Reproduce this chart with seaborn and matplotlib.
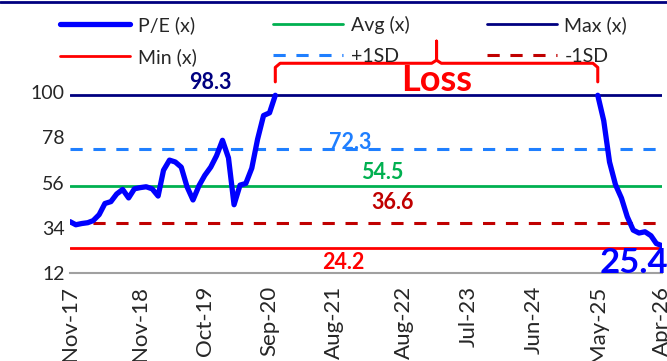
import numpy as np
import pandas as pd
import matplotlib
matplotlib.use("Agg")
import matplotlib.pyplot as plt
from matplotlib.lines import Line2D
import seaborn as sns

# P/E history (monthly), two segments with the loss period in between
PE_START_1 = "2017-11-01"
PE_VALUES_1 = [37.1, 35.6, 36.2, 36.6, 37.6, 40.5, 45.9, 46.8, 50.5, 52.7,
               48.6, 53.0, 53.6, 54.0, 53.0, 49.5, 62.0, 66.9, 66.0, 63.5,
               54.0, 47.6, 54.5, 59.5, 63.5, 69.0, 76.5, 68.0, 45.3, 54.8,
               55.6, 63.0, 77.0, 88.5, 89.8, 98.3]
PE_START_2 = "2025-05-01"
PE_VALUES_2 = [98.3, 86.0, 66.0, 55.0, 48.5, 39.5, 33.0, 31.6, 32.2, 30.3,
               26.5, 25.4]

# reference levels
MAX_PE = 98.3
PLUS_1SD = 72.3
AVG_PE = 54.5
MINUS_1SD = 36.6
MIN_PE = 24.2

X_START = "2017-11-01"
X_END = "2026-04-01"
TICK_DATES = ["2017-11-01", "2018-11-01", "2019-10-01", "2020-09-01", "2021-08-01",
              "2022-08-01", "2023-07-01", "2024-06-01", "2025-05-01", "2026-04-01"]
TICK_LABELS = ["Nov-17", "Nov-18", "Oct-19", "Sep-20", "Aug-21",
               "Aug-22", "Jul-23", "Jun-24", "May-25", "Apr-26"]
Y_TICKS = [12, 34, 56, 78, 100]

LOSS_FROM = "2020-10-01"
LOSS_TO = "2025-05-01"

C_PE = "#0000FF"
C_MAX = "#000080"
C_P1 = "#1F7FFF"
C_AVG = "#00B050"
C_M1 = "#C00000"
C_MIN = "#FF0000"

sns.set_theme(style="white")
plt.rcParams["font.family"] = ["Lato", "DejaVu Sans"]

seg1 = pd.DataFrame({"date": pd.date_range(PE_START_1, periods=len(PE_VALUES_1), freq="MS"),
                     "pe": PE_VALUES_1})
seg2 = pd.DataFrame({"date": pd.date_range(PE_START_2, periods=len(PE_VALUES_2), freq="MS"),
                     "pe": PE_VALUES_2})

fig = plt.figure(figsize=(6.67, 3.61), dpi=100)
ax = fig.add_axes([0.105, 0.2424, 0.888, 0.7036])

ax.axhline(MAX_PE, color=C_MAX, lw=2, label="Max (x)")
ax.axhline(PLUS_1SD, color=C_P1, lw=2.2, ls=(0, (4, 3.5)), label="+1SD")
ax.axhline(AVG_PE, color=C_AVG, lw=2, label="Avg (x)")
ax.axhline(MINUS_1SD, color=C_M1, lw=2.2, ls=(0, (4, 3.5)), label="-1SD")
ax.axhline(MIN_PE, color=C_MIN, lw=2, label="Min (x)")

sns.lineplot(data=seg1, x="date", y="pe", ax=ax, color=C_PE, lw=3.8, label="P/E (x)")
sns.lineplot(data=seg2, x="date", y="pe", ax=ax, color=C_PE, lw=3.8, legend=False)

ax.set_xlim(pd.Timestamp(X_START), pd.Timestamp(X_END))
ax.set_ylim(12, 135)
ax.set_yticks(Y_TICKS)
ax.set_xticks(pd.to_datetime(TICK_DATES))
ax.set_xticklabels(TICK_LABELS, rotation=90)
ax.tick_params(axis="y", labelsize=14, length=0, pad=4)
ax.tick_params(axis="x", labelsize=16, length=0, pad=9)
ax.set_xlabel("")
ax.set_ylabel("")
for s in ["top", "right", "left"]:
    ax.spines[s].set_visible(False)
ax.spines["bottom"].set_color("#A0A0A0")
ax.spines["bottom"].set_linewidth(1.5)

# value labels
def lab(date, y, txt, color, dy, va, size=15.5):
    ax.annotate(txt, xy=(pd.Timestamp(date), y), xytext=(0, dy), textcoords="offset points",
                ha="center", va=va, color=color, fontsize=size, fontweight="bold")

lab("2019-11-01", MAX_PE, f"{MAX_PE}", C_MAX, 2, "bottom")
lab("2021-10-25", PLUS_1SD, f"{PLUS_1SD}", C_P1, -3, "bottom")
lab("2022-04-07", AVG_PE, f"{AVG_PE}", C_AVG, 2, "bottom")
lab("2022-06-03", MINUS_1SD, f"{MINUS_1SD}", C_M1, 7, "bottom")
lab("2021-09-18", MIN_PE, f"{MIN_PE}", C_MIN, -3, "top")

last = seg2.iloc[-1]
ax.annotate(f"{last.pe}", xy=(last.date, last.pe), xytext=(4, -0.5), textcoords="offset points",
            ha="right", va="top", color=C_PE, fontsize=25, fontweight="bold")

# loss bracket
x0 = pd.Timestamp(LOSS_FROM)
x1 = pd.Timestamp(LOSS_TO)
xm = x0 + (x1 - x0) / 2
d = pd.Timedelta(days=25)
yb, yt, ytip = 104.8, 113.8, 124.5
bx = [x0, x0, x0 + d, xm - d, xm, xm, xm, xm + d, x1 - d, x1, x1]
by = [yb, yt - 2, yt, yt, yt + 1.5, ytip, yt + 1.5, yt, yt, yt - 2, yb]
ax.plot(bx, by, color=C_MIN, lw=2.2, clip_on=False, solid_joinstyle="round")
ax.text(xm, 105.5, "Loss", color=C_MIN, fontsize=26, fontweight="bold", ha="center", va="center")

# legend
h, l = ax.get_legend_handles_labels()
hd = dict(zip(l, h))
order = ["P/E (x)", "Min (x)", "Avg (x)", "+1SD", "Max (x)", "-1SD"]
ax.legend([hd[k] for k in order], order, ncol=3, loc="upper left",
          bbox_to_anchor=(0.075, 0.982), bbox_transform=fig.transFigure,
          frameon=False, fontsize=14, handlelength=3.6, handletextpad=0.4,
          columnspacing=3.95, labelspacing=0.7, borderpad=0)

fig.add_artist(Line2D([0, 1], [0.995, 0.995], color=C_MAX, lw=2, transform=fig.transFigure))

fig.savefig("out.png", dpi=100)
